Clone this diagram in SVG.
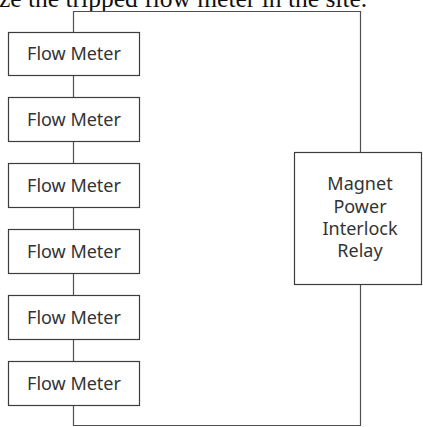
<svg xmlns="http://www.w3.org/2000/svg" width="423" height="427" viewBox="0 0 423 427">
  <style>
    .box { fill: #ffffff; stroke: #3c3c3c; stroke-width: 1.2; }
    .wire { fill: none; stroke: #505050; stroke-width: 1.2; }
    .label { font-family: "Noto Sans", "DejaVu Sans", sans-serif; font-size: 18px; fill: #333333; text-anchor: middle; }
    .caption { font-family: "Liberation Serif", serif; font-size: 25.5px; fill: #111111; }
  </style>
  <rect width="423" height="427" fill="#ffffff"/>
  <text class="caption" x="-1" y="7">ze the tripped flow meter in the site.</text>

  <g id="connectors">
    <path class="wire" d="M73.5 32.5 V11.5 H360.5 V152.5"/>
    <path class="wire" d="M360.5 284.5 V425.5 H73.5 V405.5"/>
    <path class="wire" d="M73.5 75.5 V97.5 M73.5 141.5 V163.5 M73.5 207.5 V229.5 M73.5 273.5 V295.5 M73.5 339.5 V361.5"/>
  </g>

  <g id="fm1"><rect class="box" x="8.5" y="32.5" width="131" height="43"/><text class="label" x="74" y="60">Flow Meter</text></g>
  <g id="fm2"><rect class="box" x="8.5" y="97.5" width="131" height="44"/><text class="label" x="74" y="125.5">Flow Meter</text></g>
  <g id="fm3"><rect class="box" x="8.5" y="163.5" width="131" height="44"/><text class="label" x="74" y="191.5">Flow Meter</text></g>
  <g id="fm4"><rect class="box" x="8.5" y="229.5" width="131" height="44"/><text class="label" x="74" y="257.5">Flow Meter</text></g>
  <g id="fm5"><rect class="box" x="8.5" y="295.5" width="131" height="44"/><text class="label" x="74" y="323.5">Flow Meter</text></g>
  <g id="fm6"><rect class="box" x="8.5" y="361.5" width="131" height="44"/><text class="label" x="74" y="389.5">Flow Meter</text></g>

  <g id="relay">
    <rect class="box" x="294.5" y="152.5" width="127" height="132"/>
    <text class="label" x="360" y="190">Magnet</text>
    <text class="label" x="360" y="212.5">Power</text>
    <text class="label" x="360" y="235">Interlock</text>
    <text class="label" x="360" y="257">Relay</text>
  </g>
</svg>
